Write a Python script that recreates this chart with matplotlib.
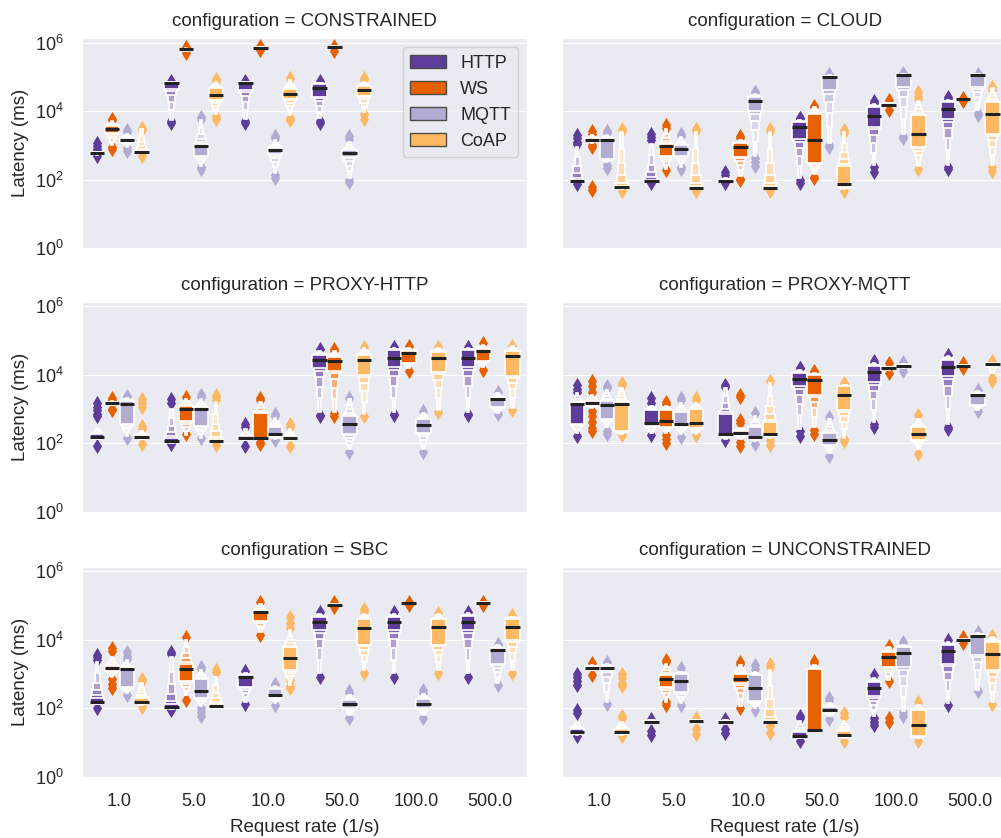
import numpy as np
import matplotlib.pyplot as plt
import seaborn as sns
from matplotlib.patches import Rectangle, Patch
from matplotlib.colors import to_rgb
from matplotlib.ticker import NullLocator

sns.set_style('darkgrid')
plt.rcParams['font.family'] = ['Liberation Sans', 'DejaVu Sans']

rates = ['1.0', '5.0', '10.0', '50.0', '100.0', '500.0']
protocols = ['HTTP', 'WS', 'MQTT', 'CoAP']
configurations = ['CONSTRAINED', 'CLOUD', 'PROXY-HTTP', 'PROXY-MQTT', 'SBC', 'UNCONSTRAINED']
colors = ['#5e3c99', '#e66101', '#b2abd2', '#fdb863']

# latency summaries (ms) per request rate: (low, q1, median, q3, high, outliers)
constrained_http = [
    (540, 560, 590, 620, 650, [1150, 950, 800, 700, 500]),
    (5500, 45000, 68000, 70000, 71000, [78000, 5000, 4400]),
    (6000, 40000, 68000, 70000, 71000, [78000, 5000, 4400]),
    (6100, 26000, 46000, 63000, 67000, [75000, 5000, 4400]),
    None, None]
constrained_ws = [
    (1000, 2300, 3000, 3700, 5000, [6000, 5500, 900, 800]),
    (580000, 600000, 630000, 650000, 680000, [750000, 500000]),
    (660000, 680000, 690000, 710000, 730000, [800000, 600000]),
    (700000, 720000, 740000, 760000, 780000, [800000, 560000]),
    None, None]
constrained_mqtt = [
    (900, 1250, 1450, 1700, 2200, [2800, 2400, 850, 700]),
    (250, 500, 980, 1100, 5500, [6800, 5800, 230, 200]),
    (160, 550, 750, 850, 1400, [1900, 1600, 140, 115]),
    (110, 470, 610, 730, 1260, [1900, 1500, 95, 85]),
    None, None]
constrained_coap = [
    (600, 620, 630, 700, 3000, [3200, 2800, 500]),
    (8000, 21000, 29000, 46000, 70000, [85000, 75000, 7000, 6000]),
    (7600, 22000, 32000, 45000, 80000, [90000, 6500, 5500]),
    (9500, 28000, 41000, 55000, 70000, [95000, 80000, 8000, 6000]),
    None, None]

cloud_http = [
    (85, 88, 91, 100, 900, [2000, 1600, 1300, 1100, 75]),
    (85, 88, 91, 100, 1100, [2200, 1800, 1400, 78]),
    (86, 88, 91, 95, 110, [170, 140, 78]),
    (110, 1500, 3500, 4800, 5500, [6500, 6100, 95, 78]),
    (260, 3500, 7300, 13500, 16000, [20000, 17000, 230, 170]),
    (270, 6000, 11700, 19000, 21000, [25000, 22000, 240, 200])]
cloud_ws = [
    (1200, 1400, 1480, 1600, 2000, [2700, 2200, 1050, 900, 63, 50]),
    (200, 500, 980, 1100, 3000, [3900, 3300, 190]),
    (130, 470, 870, 1150, 1450, [1900, 1700, 105, 98]),
    (150, 300, 1480, 8500, 13000, [14000, 13000, 120, 110]),
    (14000, 15000, 15600, 16500, 17500, [21000, 11000]),
    (21000, 21500, 22000, 22500, 23000, [24000, 20000])]
cloud_mqtt = [
    (320, 400, 1440, 1600, 2000, [2600, 2300, 260, 215]),
    (240, 500, 780, 1000, 1800, [2100, 1900, 230, 210]),
    (500, 10000, 20000, 26000, 32000, [37000, 35000, 420, 330, 250]),
    (1150, 40000, 102000, 105000, 110000, [125000, 1050, 900]),
    (2200, 50000, 115000, 116000, 118000, [130000, 1900, 1700]),
    (10700, 50000, 115000, 116000, 118000, [125000, 9000, 7600])]
cloud_coap = [
    (55, 58, 60, 65, 2500, [3100, 2700, 47]),
    (55, 57, 59, 65, 2500, [3100, 2700, 47]),
    (55, 57, 59, 65, 2500, [3100, 2700, 47]),
    (55, 60, 75, 250, 2500, [2800, 2300, 47]),
    (250, 920, 2200, 7600, 20000, [35000, 28000, 22000, 200]),
    (270, 2200, 8500, 19000, 46000, [50000, 42000, 230, 180])]

proxy_http_http = [
    (130, 140, 150, 180, 280, [1500, 1150, 900, 700, 600, 83]),
    (100, 108, 115, 140, 1000, [1900, 1500, 92]),
    (120, 130, 138, 160, 250, [350, 300, 83]),
    (800, 15500, 27000, 38000, 50000, [56000, 650, 600]),
    (800, 17000, 30000, 53000, 59000, [63000, 700, 650]),
    (800, 17000, 30000, 53000, 59000, [63000, 700, 650])]
proxy_http_ws = [
    (1300, 1400, 1440, 1500, 1700, [2100, 1800, 1000, 950]),
    (170, 450, 1020, 1200, 1900, [2200, 180]),
    (130, 140, 145, 760, 1600, [2100, 1800, 110, 95]),
    (800, 13000, 24000, 33000, 50000, [55000, 48000, 750, 600]),
    (15500, 22000, 43000, 50000, 59000, [66000, 13000]),
    (17000, 25000, 48000, 55000, 74000, [82000, 14000])]
proxy_http_mqtt = [
    (160, 350, 1340, 1700, 2100, [2300, 145]),
    (145, 310, 980, 1100, 1900, [2600, 2200, 140]),
    (130, 160, 190, 300, 550, [700, 600, 125]),
    (66, 180, 360, 600, 1900, [2100, 55]),
    (66, 200, 340, 500, 760, [850, 55]),
    (760, 1100, 2000, 2100, 2900, [3000, 700])]
proxy_http_coap = [
    (130, 140, 150, 170, 220, [1900, 1500, 1100, 320, 260, 92]),
    (105, 110, 115, 130, 1600, [2600, 2200, 1800, 90]),
    (120, 130, 140, 160, 250, [360, 300, 85]),
    (690, 10000, 26000, 38000, 59000, [63000, 600]),
    (950, 12000, 31000, 45000, 59000, [62000, 800]),
    (1070, 9000, 34000, 48000, 66000, [70000, 900])]

proxy_mqtt_http = [
    (200, 350, 1380, 1500, 2800, [5000, 3800, 3000, 160]),
    (200, 316, 390, 950, 1200, [2100, 1500, 170]),
    (130, 170, 190, 700, 4000, [5000, 4300, 120]),
    (260, 4500, 7400, 11000, 14000, [16000, 15000, 220, 160]),
    (400, 6000, 11700, 18000, 21000, [24000, 22000, 350, 300]),
    (350, 9000, 16600, 27000, 34000, [38000, 300, 260])]
proxy_mqtt_ws = [
    (1070, 1300, 1500, 1700, 2600, [6300, 4500, 3000, 850, 600, 400, 280, 220]),
    (200, 300, 440, 900, 1200, [1600, 1400, 170, 130, 100]),
    (130, 170, 200, 230, 280, [2600, 2200, 480, 380, 110, 83]),
    (300, 2500, 6800, 9500, 11000, [12500, 11500, 240, 190]),
    (14000, 15000, 15500, 16000, 17000, [21000, 11000]),
    (17000, 17500, 18000, 18500, 19000, [21000, 16000])]
proxy_mqtt_mqtt = [
    (300, 500, 1290, 1700, 3600, [4600, 4000, 225, 180]),
    (180, 300, 370, 800, 1500, [2100, 1800, 150]),
    (115, 140, 155, 300, 610, [750, 92]),
    (53, 90, 120, 200, 490, [580, 42]),
    (16000, 17000, 18000, 19000, 20000, [23000, 12500]),
    (950, 1300, 2450, 2700, 3250, [3600, 850])]
proxy_mqtt_coap = [
    (190, 220, 1380, 1600, 4000, [5700, 4800, 175]),
    (180, 280, 390, 1000, 1500, [2100, 1800, 170]),
    (140, 170, 190, 400, 5500, [6300, 120, 90]),
    (145, 900, 2600, 4500, 5100, [5800, 5300, 130, 115]),
    (66, 120, 180, 300, 490, [650, 47]),
    (11000, 19000, 20000, 21000, 22000, [24000, 8000, 6500])]

sbc_http = [
    (130, 140, 150, 200, 2200, [3500, 3000, 2600, 100]),
    (95, 100, 105, 130, 3100, [4400, 3700, 90]),
    (155, 400, 830, 900, 1030, [1200, 130]),
    (1030, 18600, 33000, 46000, 56000, [63000, 830]),
    (1030, 18600, 33000, 46000, 56000, [63000, 830]),
    (1030, 18600, 32000, 48000, 59000, [62000, 830])]
sbc_ws = [
    (830, 1200, 1440, 1700, 3000, [5500, 4500, 700, 500, 380]),
    (240, 600, 1380, 2000, 10000, [12000, 175]),
    (16600, 35000, 63000, 70000, 110000, [124000, 13400]),
    (100000, 103000, 105000, 107000, 110000, [125000, 88000]),
    (110000, 112000, 115000, 117000, 119000, [125000, 100000]),
    (115000, 118000, 120000, 122000, 124000, [127000, 105000])]
sbc_mqtt = [
    (270, 400, 1380, 1500, 2500, [4400, 3300, 2700, 240]),
    (112, 200, 310, 700, 1300, [1600, 1400, 100, 75, 57]),
    (140, 200, 245, 350, 430, [520, 460, 125]),
    (65, 100, 130, 170, 245, [320, 280, 52]),
    (65, 100, 135, 180, 260, [330, 280, 52]),
    (530, 2000, 5100, 5500, 6900, [7200, 6500, 480])]
sbc_coap = [
    (125, 140, 150, 200, 530, [700, 600, 105]),
    (105, 108, 112, 130, 830, [1300, 1100]),
    (480, 1300, 2950, 6100, 18600, [46000, 30000, 22000, 660, 450, 380]),
    (1300, 7000, 22000, 40000, 56000, [80000, 65000, 1030]),
    (1300, 7000, 23000, 40000, 56000, [60000, 1030]),
    (1300, 9500, 23000, 41000, 46000, [51000, 1030])]

unconstrained_http = [
    (17, 18, 20, 25, 40, [1000, 800, 600, 480, 90, 72, 15]),
    (35, 38, 40, 43, 45, [48, 22, 17]),
    (35, 37, 39, 42, 45, [48, 24, 19]),
    (13.5, 14.5, 15.8, 20, 41, [57, 50, 11]),
    (57, 220, 390, 590, 740, [900, 50, 40, 33]),
    (140, 2000, 4600, 6900, 8500, [9500, 125])]
unconstrained_ws = [
    (1300, 1400, 1500, 1600, 1800, [2100, 950]),
    (150, 420, 720, 900, 2000, [2600, 2200, 155, 125]),
    (112, 530, 710, 1000, 1800, [2200, 2000, 100]),
    (21, 22, 23.5, 1400, 1800, [2400, 2100]),
    (660, 1600, 3000, 4400, 6100, [6500, 600, 50, 40]),
    (9500, 9800, 10000, 10200, 10500, [12000, 8000])]
unconstrained_mqtt = [
    (150, 1300, 1500, 1600, 2000, [2200, 130]),
    (140, 300, 630, 1000, 1150, [1500, 125]),
    (100, 160, 380, 900, 1150, [1800, 1400, 90]),
    (57, 80, 90, 110, 140, [200, 170, 48]),
    (80, 1600, 4100, 6100, 6900, [8500, 75, 60]),
    (340, 3500, 13000, 14000, 15000, [17000, 320])]
unconstrained_coap = [
    (17, 18, 20.5, 25, 40, [1000, 750, 550, 430, 60, 50, 15]),
    (38, 40, 42, 44, 46, [52, 25, 18]),
    (37, 39, 40, 45, 1300, [2000, 1600, 30, 19]),
    (13.5, 14.5, 16, 22, 41, [70, 55, 11]),
    (13.5, 15, 32, 89, 125, [150, 11]),
    (155, 1300, 3700, 8500, 12000, [13000, 130])]

latency = {
    'CONSTRAINED': [constrained_http, constrained_ws, constrained_mqtt, constrained_coap],
    'CLOUD': [cloud_http, cloud_ws, cloud_mqtt, cloud_coap],
    'PROXY-HTTP': [proxy_http_http, proxy_http_ws, proxy_http_mqtt, proxy_http_coap],
    'PROXY-MQTT': [proxy_mqtt_http, proxy_mqtt_ws, proxy_mqtt_mqtt, proxy_mqtt_coap],
    'SBC': [sbc_http, sbc_ws, sbc_mqtt, sbc_coap],
    'UNCONSTRAINED': [unconstrained_http, unconstrained_ws, unconstrained_mqtt, unconstrained_coap],
}

N_LEVELS = 6


def draw_boxen(ax, x, width, stats, color):
    lo, q1, med, q3, hi, fliers = stats
    base = np.array(to_rgb(color))
    if fliers:
        ax.scatter(np.full(len(fliers), x), fliers, marker='d', s=60,
                   color=color, linewidths=0, zorder=1)
    llo, lq1, lq3, lhi = np.log10([lo, q1, q3, hi])
    # outer (light, narrow) levels first, inner box on top;
    # tail levels spread out faster the further they are from the centre
    for j in range(N_LEVELS - 1, -1, -1):
        t = j / (N_LEVELS - 1)
        reach = t ** 1.7
        bottom = 10 ** (lq1 + (llo - lq1) * reach)
        top = 10 ** (lq3 + (lhi - lq3) * reach)
        w = width * (N_LEVELS - j) / N_LEVELS
        fc = base + (1 - base) * 0.85 * t
        ax.add_patch(Rectangle((x - w / 2, bottom), w, top - bottom,
                               facecolor=fc, edgecolor='white', lw=1.2, zorder=1))
    ax.plot([x - width / 2, x + width / 2], [med, med], color='#222222',
            lw=2.2, solid_capstyle='butt', zorder=2)


fig, axes = plt.subplots(3, 2, figsize=(10.01, 8.38), dpi=100, sharex=True, sharey=True)

W, H = 1001, 838
col_x = [82.3, 562.3]
row_top = [38.3, 301.7, 566.7]
ax_w, ax_h = 445, 210

offsets = np.linspace(-0.3, 0.3, len(protocols))
box_w = 0.8 / len(protocols) * 0.98

for idx, cfg in enumerate(configurations):
    r, c = divmod(idx, 2)
    ax = axes[r, c]
    ax.set_position([col_x[c] / W, 1 - (row_top[r] + ax_h) / H, ax_w / W, ax_h / H])
    ax.set_yscale('log')
    for p, series in enumerate(latency[cfg]):
        for i, stats in enumerate(series):
            if stats is None:
                continue
            draw_boxen(ax, i + offsets[p], box_w, stats, colors[p])
    ax.set_xlim(-0.5, len(rates) - 0.5)
    ax.set_ylim(1, 1.33e6)
    ax.set_yticks([1, 1e2, 1e4, 1e6])
    ax.yaxis.set_minor_locator(NullLocator())
    ax.set_xticks(range(len(rates)))
    ax.set_xticklabels(rates)
    ax.xaxis.grid(False)
    ax.tick_params(axis='x', length=0, pad=12, labelsize=13)
    ax.tick_params(axis='y', length=0, pad=13.5, labelsize=13)
    ax.set_title(f'configuration = {cfg}', fontsize=13.5, pad=8.5)
    if c == 0:
        ax.set_ylabel('Latency (ms)', fontsize=13.5)
    if r == 2:
        ax.set_xlabel('Request rate (1/s)', fontsize=13.5, labelpad=6.5)

handles = [Patch(facecolor=col, edgecolor='0.3', lw=1, label=name)
           for name, col in zip(protocols, colors)]
axes[0, 0].legend(handles=handles, loc='upper right', fontsize=13)

fig.savefig('out.png', dpi=100)
